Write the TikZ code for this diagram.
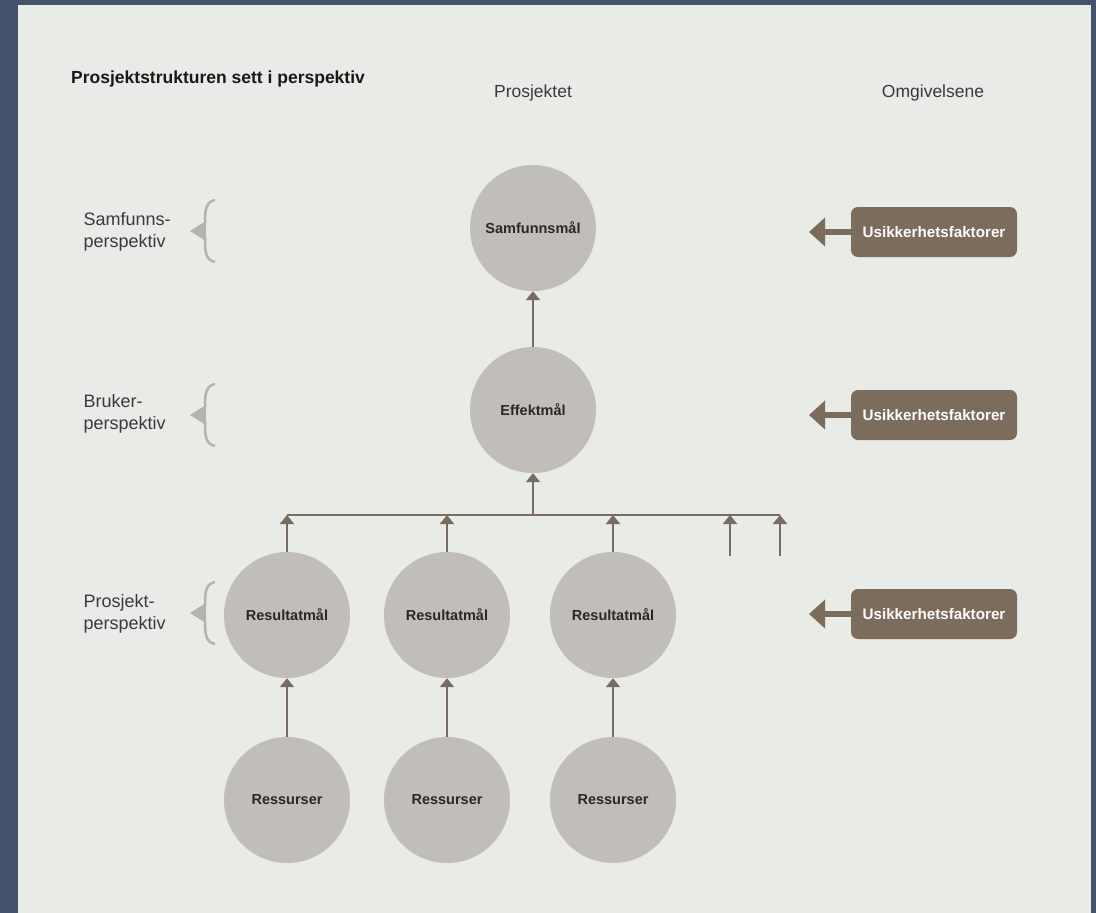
\documentclass[tikz,border=0pt]{standalone}
\usepackage{fontspec}
\setmainfont{Liberation Sans}
\usepackage{xcolor}
\usetikzlibrary{arrows.meta}

\definecolor{framecol}{HTML}{43536B}
\definecolor{panelcol}{HTML}{E9EBE6}
\definecolor{goalgrey}{HTML}{C1BDB8}
\definecolor{goaltext}{HTML}{2A2928}
\definecolor{linkbrown}{HTML}{776C5F}
\definecolor{riskbrown}{HTML}{7B6C5C}
\definecolor{bracegrey}{HTML}{B5B1AD}
\definecolor{labeltext}{HTML}{3A3A3A}

\begin{document}
\begin{tikzpicture}[x=1pt, y=-1pt, node distance=185pt,
  goal/.style={circle, fill=goalgrey, minimum size=126pt, inner sep=0pt,
    text=goaltext, font=\fontsize{14.5}{17}\selectfont\bfseries},
  link/.style={draw=linkbrown, line width=2.9pt},
  up/.style={link, -{Triangle[width=14pt,length=9pt]}},
  risk/.style={fill=riskbrown, rounded corners=7pt, minimum width=166pt,
    minimum height=50pt, text=white, font=\fontsize{15.2}{18}\selectfont\bfseries},
  push/.style={draw=riskbrown, line width=6pt, -{Triangle[width=28pt,length=16pt]}},
  level/.style={anchor=west, align=left, text=labeltext, font=\fontsize{18}{22}\selectfont},
  head/.style={anchor=base, text=labeltext, font=\fontsize{17.5}{20}\selectfont},
  brace/.style={draw=bracegrey, line width=2.5pt}]

  % background and panel
  \fill[framecol] (0,0) rectangle (1096,913);
  \fill[panelcol] (18,5) rectangle (1091,913);

  \node[anchor=base west, inner sep=0pt, text=black!90, font=\fontsize{17.5}{21}\selectfont\bfseries]
    (title) at (71,83) {Prosjektstrukturen sett i perspektiv};
  \node[head] (hdrP) at (533,97) {Prosjektet};
  \node[head] (hdrO) at (933,97) {Omgivelsene};

  % goals
  \node[goal]                                        (Eff)   at (533,410) {Effektmål};
  \node[goal, node distance=182pt, above of=Eff]     (Samf)               {Samfunnsmål};
  \node[goal]                                        (Res1)  at (287,615) {Resultatmål};
  \node[goal]                                        (Res2)  at (447,615) {Resultatmål};
  \node[goal]                                        (Res3)  at (613,615) {Resultatmål};
  \node[goal, below of=Res1]                         (Ress1)              {Ressurser};
  \node[goal, below of=Res2]                         (Ress2)              {Ressurser};
  \node[goal, below of=Res3]                         (Ress3)              {Ressurser};

  % bus between results and effect
  \coordinate (busL) at (287,515);
  \coordinate (busR) at (780,515);
  \coordinate (free1) at (730,556);
  \coordinate (free2) at (780,556);
  \draw[link] (busL) -- (busR);

  \draw[up] (Eff) -- (Samf);
  \draw[up] (Eff.south |- busL) -- (Eff.south);
  \foreach \i in {1,2,3} {
    \draw[up] (Res\i.north) -- (Res\i.north |- busL);
    \draw[up] (Ress\i) -- (Res\i);
  }
  \draw[up] (free1) -- (free1 |- busL);
  \draw[up] (free2) -- (free2 |- busL);

  % uncertainty from the surroundings
  \node[risk] (U1) at (934,232) {Usikkerhetsfaktorer};
  \node[risk] (U2) at (934,415) {Usikkerhetsfaktorer};
  \node[risk] (U3) at (934,614) {Usikkerhetsfaktorer};
  \coordinate (to1) at (809,232);
  \coordinate (to2) at (809,415);
  \coordinate (to3) at (809,614);
  \draw[push] (U1) -- (to1);
  \draw[push] (U2) -- (to2);
  \draw[push] (U3) -- (to3);

  % perspectives
  \node[level] (lvl1) at (80,232) {Samfunns-\\perspektiv};
  \node[level] (lvl2) at (80,414) {Bruker-\\perspektiv};
  \node[level] (lvl3) at (80,614) {Prosjekt-\\perspektiv};
  \foreach \y in {231,415,613} {
    \draw[brace] (215,\y-31) .. controls (206,\y-29) and (205,\y-22) .. (205,\y-8);
    \draw[brace] (205,\y+8) .. controls (205,\y+22) and (206,\y+29) .. (215,\y+31);
    \fill[bracegrey] (190,\y) -- (206,\y-10) -- (206,\y+10) -- cycle;
  }
\end{tikzpicture}
\end{document}
